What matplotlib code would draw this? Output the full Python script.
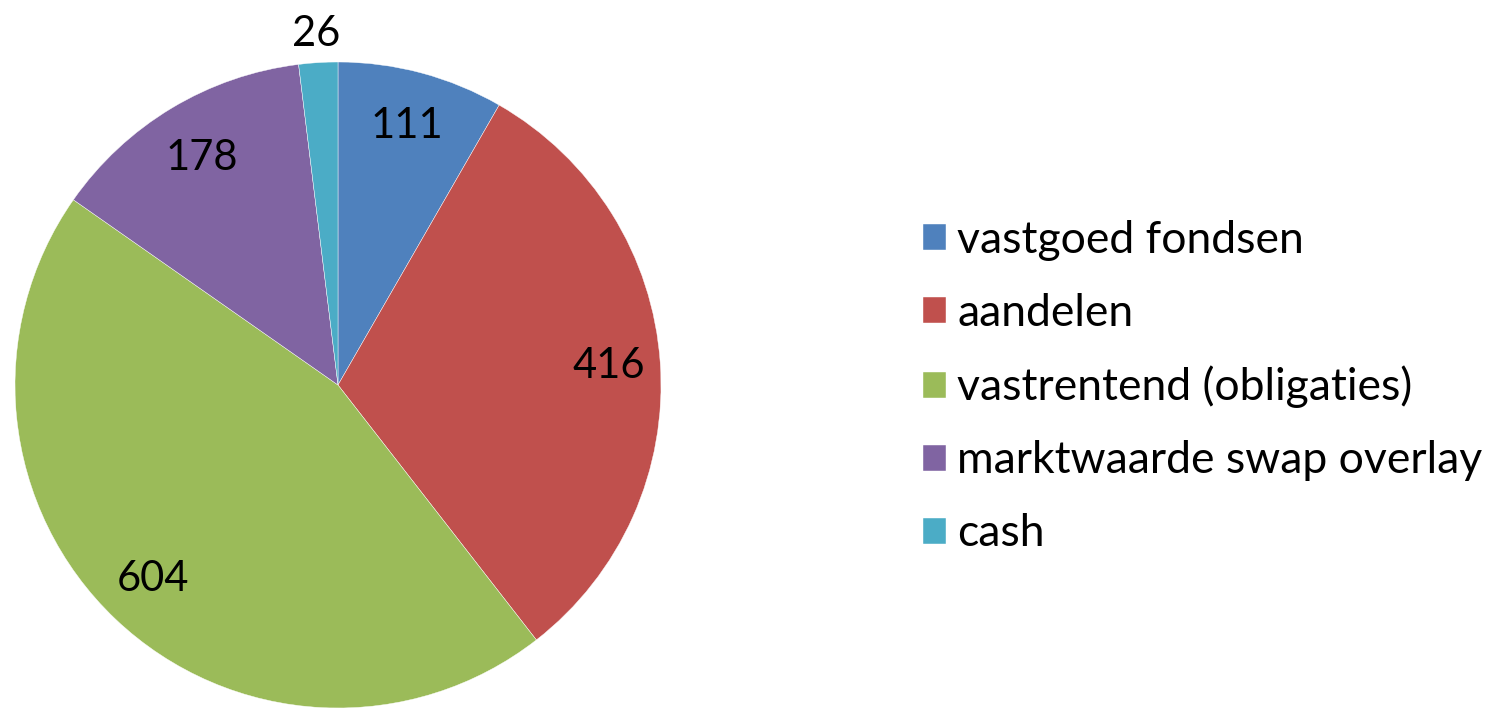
import matplotlib
matplotlib.use("Agg")
import matplotlib.pyplot as plt
import numpy as np

categories = ["vastgoed fondsen", "aandelen", "vastrentend (obligaties)",
              "marktwaarde swap overlay", "cash"]
values = [111, 416, 604, 178, 26]
colors = ["#4F81BD", "#C0504D", "#9BBB59", "#8064A2", "#4BACC6"]

W, H = 1497, 708
fig = plt.figure(figsize=(W / 100, H / 100), dpi=100)
ax = fig.add_axes([0, 0, 1, 1])

FONT = "Lato"
FS_LABEL = 30
FS_LEG = 32

cx, cy, R = 338, H - 385, 323
wedges, _ = ax.pie(values, colors=colors, startangle=90, counterclock=False,
                   center=(cx, cy), radius=R, frame=True,
                   wedgeprops=dict(edgecolor="white", linewidth=0.3))
ax.set_xlim(0, W)
ax.set_ylim(0, H)
ax.set_aspect("equal")
ax.axis("off")

dists = [0.83, 0.84, 0.83, 0.82, 1.09]
for w, v, d in zip(wedges, values, dists):
    ang = np.deg2rad((w.theta1 + w.theta2) / 2)
    x = cx + d * R * np.cos(ang)
    y = cy + d * R * np.sin(ang)
    ax.text(x, y, str(v), ha="center", va="center", fontsize=FS_LABEL,
            family=FONT, color="black")

leg = ax.legend(wedges, categories, loc="center left",
                bbox_to_anchor=(923 / W, 1 - 387 / H),
                frameon=False, prop=dict(family=FONT, size=FS_LEG),
                handlelength=0.52, handleheight=0.52, handletextpad=0.25,
                labelspacing=0.72, borderpad=0, borderaxespad=0)

fig.savefig("out.png", dpi=100)
